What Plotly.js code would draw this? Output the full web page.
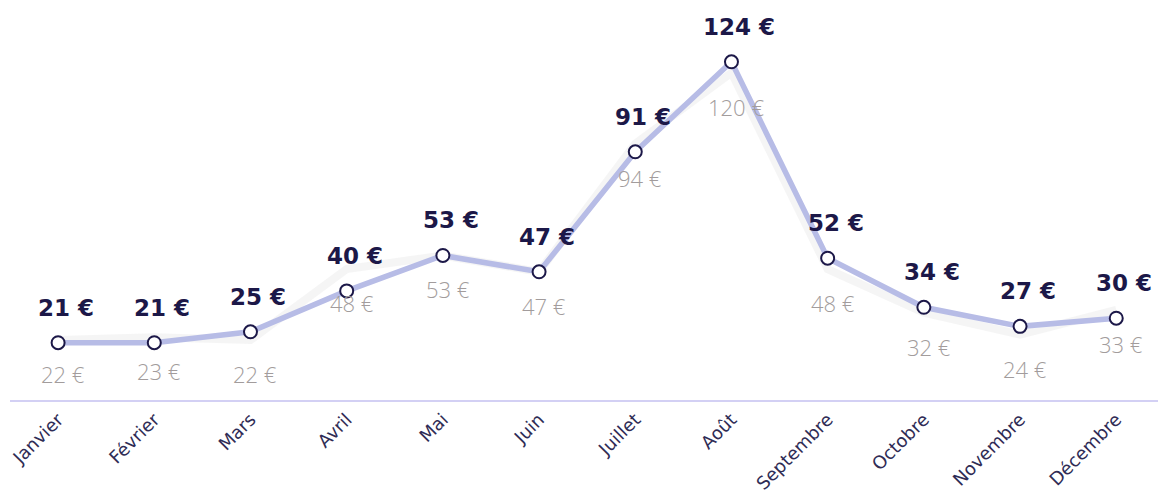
<!DOCTYPE html>
<html>
<head>
<meta charset="utf-8">
<script src="https://cdn.plot.ly/plotly-3.0.1.min.js"></script>
<style>html,body{margin:0;padding:0;background:#fff;}#chart{width:1158px;height:496px;}</style>
</head>
<body>
<div id="chart"></div>
<script>
const months = ["Janvier","Février","Mars","Avril","Mai","Juin","Juillet","Août","Septembre","Octobre","Novembre","Décembre"];
const current = [21,21,25,40,53,47,91,124,52,34,27,30];
const previous = [22,23,22,48,53,47,94,120,48,32,24,33];

const fmt = v => v + " €";

const traces = [
  {
    x: months, y: previous, type: "scatter", mode: "lines",
    line: {color: "rgba(232,232,232,0.45)", width: 8, shape: "linear"},
    hoverinfo: "skip", showlegend: false
  },
  {
    x: months, y: current, type: "scatter", mode: "lines+markers",
    line: {color: "#b7bce6", width: 5.5},
    marker: {size: 13, color: "#ffffff", line: {color: "#1c1848", width: 2}},
    showlegend: false
  }
];

const annotations = [];
months.forEach((m, i) => {
  annotations.push({
    x: m, y: current[i], text: fmt(current[i]), showarrow: false,
    xshift: 8, yshift: 35,
    font: {family: "DejaVu Sans, sans-serif", size: 23, color: "#1c1848", weight: 700}
  });
  annotations.push({
    x: m, y: previous[i], text: fmt(previous[i]), showarrow: false,
    xshift: 5, yshift: -34,
    font: {family: "Open Sans, sans-serif", size: 22, color: "#a29c9c", weight: 300}
  });
});

const layout = {
  width: 1158, height: 496,
  margin: {l: 10, r: 0, t: 10, b: 96},
  paper_bgcolor: "#ffffff", plot_bgcolor: "#ffffff",
  xaxis: {
    type: "category", range: [-0.5, 11.434],
    showgrid: false, zeroline: false,
    showline: true, linecolor: "#d3d0f4", linewidth: 2,
    ticks: "", tickangle: -45,
    tickfont: {family: "DejaVu Sans, sans-serif", size: 18, color: "#2f2c55"}
  },
  yaxis: {range: [0, 143], visible: false, showgrid: false, zeroline: false},
  annotations: annotations,
  showlegend: false
};

Plotly.newPlot("chart", traces, layout, {displayModeBar: false, staticPlot: true});
</script>
</body>
</html>
